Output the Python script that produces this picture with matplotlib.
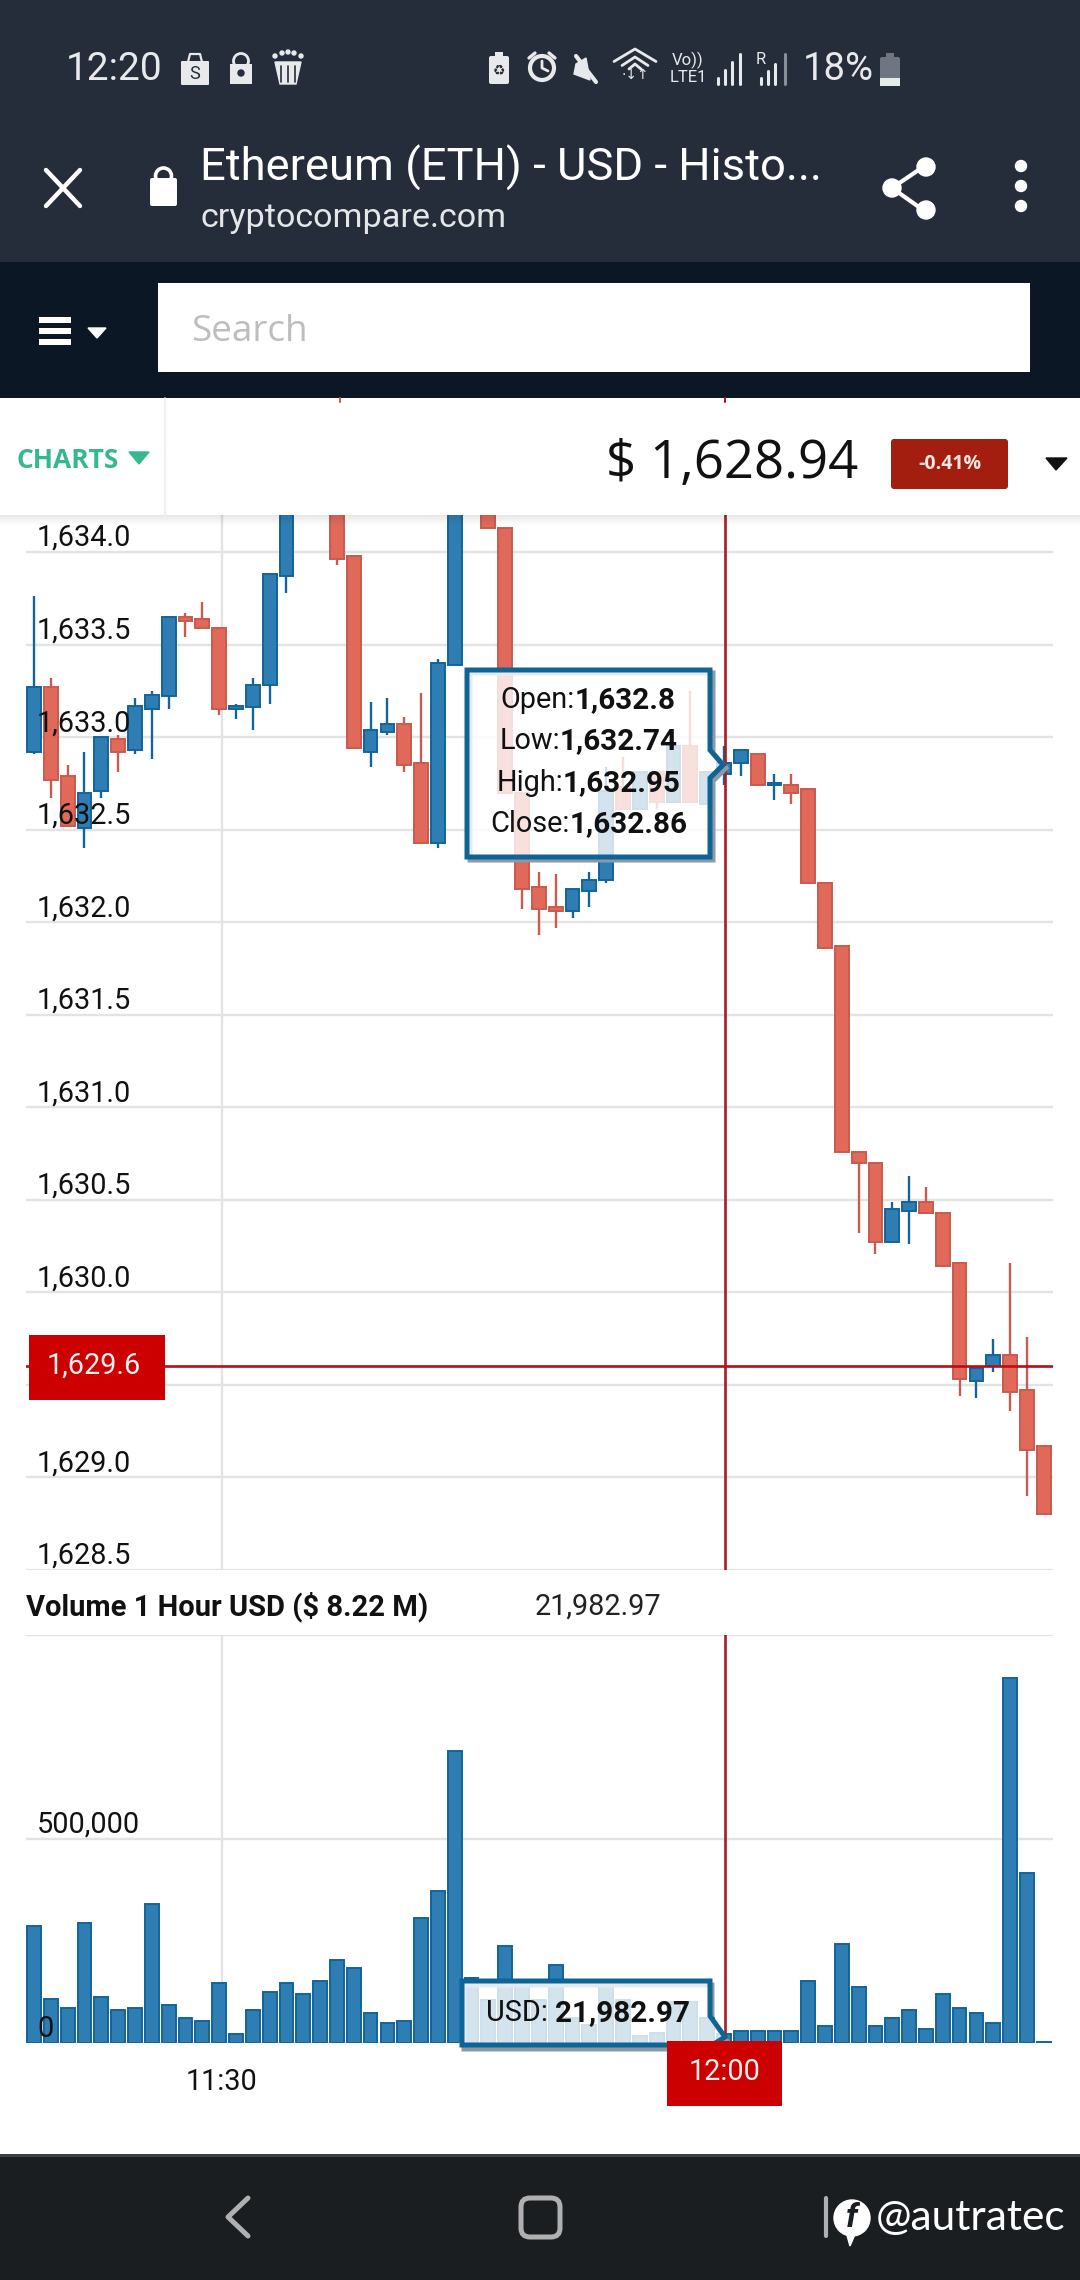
import matplotlib
matplotlib.use('Agg')
import matplotlib.pyplot as plt
from matplotlib.patches import Rectangle, Polygon, Circle, FancyBboxPatch

plt.rcParams['font.family'] = ['Roboto', 'DejaVu Sans']

W, H = 1080, 2280

opens = [1632.92, 1633.27, 1632.79, 1632.51, 1632.71, 1632.99, 1632.93, 1633.15, 1633.22, 1633.65,
         1633.64, 1633.59, 1633.15, 1633.16, 1633.28, 1633.87, 1634.70, 1634.60, 1634.40, 1633.98,
         1632.92, 1633.03, 1633.07, 1632.86, 1632.43, 1633.39, 1634.40, 1634.30, 1634.13, 1632.70,
         1632.19, 1632.08, 1632.06, 1632.17, 1632.23, 1632.73, 1632.61, 1632.81, 1632.65, 1632.95,
         1632.64, 1632.80, 1632.86, 1632.91, 1632.74, 1632.74, 1632.72, 1632.21, 1631.87, 1630.76,
         1630.70, 1630.27, 1630.44, 1630.49, 1630.43, 1630.16, 1629.52, 1629.60, 1629.66, 1629.47, 1629.17]
closes = [1633.27, 1632.77, 1632.52, 1632.70, 1633.00, 1632.92, 1633.17, 1633.23, 1633.65, 1633.63,
          1633.59, 1633.15, 1633.17, 1633.28, 1633.88, 1634.50, 1634.50, 1634.40, 1633.96, 1632.94,
          1633.04, 1633.07, 1632.85, 1632.43, 1633.40, 1634.50, 1634.60, 1634.13, 1632.70, 1632.18,
          1632.07, 1632.06, 1632.18, 1632.23, 1632.71, 1632.61, 1632.81, 1632.65, 1632.95, 1632.65,
          1632.81, 1632.86, 1632.93, 1632.74, 1632.75, 1632.70, 1632.21, 1631.86, 1630.76, 1630.70,
          1630.27, 1630.45, 1630.49, 1630.43, 1630.14, 1629.53, 1629.59, 1629.66, 1629.46, 1629.15, 1628.80]
highs = [1633.76, 1633.32, 1632.85, 1632.92, 1633.00, 1633.01, 1633.21, 1633.25, 1633.65, 1633.67,
         1633.73, 1633.59, 1633.18, 1633.32, 1633.88, 1634.50, 1634.70, 1634.60, 1634.40, 1633.98,
         1633.19, 1633.21, 1633.11, 1633.24, 1633.42, 1634.50, 1634.60, 1634.30, 1634.13, 1632.70,
         1632.27, 1632.26, 1632.18, 1632.27, 1632.84, 1632.89, 1632.81, 1632.81, 1632.95, 1633.25,
         1632.81, 1632.95, 1632.93, 1632.91, 1632.80, 1632.80, 1632.72, 1632.21, 1631.87, 1630.76,
         1630.70, 1630.49, 1630.63, 1630.57, 1630.43, 1630.16, 1629.59, 1629.75, 1630.16, 1629.76, 1629.17]
lows = [1632.91, 1632.67, 1632.52, 1632.40, 1632.67, 1632.81, 1632.91, 1632.88, 1633.15, 1633.54,
        1633.59, 1633.12, 1633.10, 1633.04, 1633.18, 1633.78, 1634.50, 1634.40, 1633.93, 1632.94,
        1632.84, 1633.01, 1632.81, 1632.43, 1632.40, 1633.39, 1634.40, 1634.13, 1632.70, 1632.07,
        1631.93, 1631.97, 1632.02, 1632.08, 1632.21, 1632.61, 1632.61, 1632.61, 1632.65, 1632.65,
        1632.64, 1632.74, 1632.79, 1632.74, 1632.66, 1632.64, 1632.21, 1631.86, 1630.76, 1630.32,
        1630.21, 1630.27, 1630.26, 1630.43, 1630.14, 1629.44, 1629.43, 1629.57, 1629.36, 1628.90, 1628.80]
volumes = [287000, 107000, 87000, 294000, 113000, 80000, 87000, 340000, 94000, 62000,
           55000, 146000, 23000, 80000, 126000, 146000, 120000, 153000, 204000, 184000,
           74000, 48000, 55000, 307000, 372000, 715000, 160000, 106000, 237000, 143000,
           106000, 192000, 62000, 44000, 143000, 106000, 17000, 25000, 101000, 101000,
           62000, 21983, 29000, 29000, 29000, 29000, 153000, 42000, 242000, 138000,
           42000, 62000, 80000, 35000, 120000, 87000, 74000, 48000, 895000, 417000, 3000]
price_ticks = [1634.0, 1633.5, 1633.0, 1632.5, 1632.0, 1631.5, 1631.0, 1630.5, 1630.0, 1629.0, 1628.5]
price_grid = [1634.0, 1633.5, 1633.0, 1632.5, 1632.0, 1631.5, 1631.0, 1630.5, 1630.0, 1629.5, 1629.0, 1628.5]
volume_ticks = [0, 500000]
volume_labels = ['0', '500,000']
time_tick = 11.15
time_label = '11:30'
cross_index = 41.05
cross_price = 1629.6

BLUE = '#2f7eb3'
BLUE_EDGE = '#13649b'
RED = '#e0695a'
RED_EDGE = '#c95a4e'
GRID = '#e3e3e3'
CROSS = '#a51d24'
DARK = '#252c3a'
ICON = '#e8e9eb'
LABEL = 20.8


def add_box(left, top, right, bottom, **kw):
    a = fig.add_axes([left / W, 1 - bottom / H, (right - left) / W, (bottom - top) / H], **kw)
    a.patch.set_visible(False)
    for s in a.spines.values():
        s.set_visible(False)
    return a


fig = plt.figure(figsize=(W / 100, H / 100), dpi=100, facecolor='white')

# candles
ax = add_box(26, 515, 1053, 1570, zorder=2)
xs = list(range(len(opens)))
for x, o, c, h, l in zip(xs, opens, closes, highs, lows):
    up = c >= o
    ax.vlines(x, l, h, color=BLUE_EDGE if up else RED_EDGE, lw=1.7, zorder=1.5)
    ax.bar(x, abs(c - o), bottom=min(o, c), width=0.82, color=BLUE if up else RED,
           edgecolor=BLUE_EDGE if up else RED_EDGE, linewidth=1.4, zorder=2)
for p in price_grid:
    ax.axhline(p, color=GRID, lw=1.7, zorder=0.5)
ax.axvline(time_tick, color=GRID, lw=1.7, zorder=0.6)
ax.axvline(cross_index, color=CROSS, lw=1.9, zorder=3)
ax.axhline(cross_price, color='#b80f17', lw=1.9, zorder=3)
ax.set_xlim(-0.475, 60.55)
ax.set_ylim(1628.5, 1634.2)
ax.set_xticks([])
ax.set_yticks(price_ticks)
ax.set_yticklabels([f'{p:,.1f}' for p in price_ticks])
ax.set_axisbelow(False)
ax.tick_params(axis='y', length=0, pad=-8, labelsize=LABEL, labelcolor='#111111')
for t in ax.get_yticklabels():
    t.set_ha('left')
    t.set_va('bottom')

# volume
vx = add_box(26, 1635, 1053, 2043, zorder=2)
vx.bar(xs, volumes, width=0.82, color=BLUE, edgecolor=BLUE_EDGE, linewidth=1.4, zorder=2)
for v in volume_ticks + [1000000]:
    vx.axhline(v, color=GRID, lw=1.7, zorder=0.5)
vx.axvline(time_tick, color=GRID, lw=1.7, zorder=0.6)
vx.axvline(cross_index, color=CROSS, lw=1.9, zorder=3)
vx.set_xlim(-0.475, 60.55)
vx.set_ylim(0, 1000000)
vx.set_xticks([time_tick])
vx.set_xticklabels([time_label])
vx.set_yticks(volume_ticks)
vx.set_yticklabels(volume_labels)
vx.set_axisbelow(False)
vx.tick_params(axis='y', length=0, pad=-8, labelsize=LABEL, labelcolor='#111111')
vx.tick_params(axis='x', length=0, pad=18, labelsize=LABEL, labelcolor='#111111')
for t in vx.get_yticklabels():
    t.set_ha('left')
    t.set_va('bottom')
for t in vx.get_xticklabels():
    t.set_clip_on(False)

# everything else is page furniture, drawn in screen pixels
top = add_box(0, 0, W, H, zorder=5)
top.set_xlim(0, W)
top.set_ylim(H, 0)
top.axis('off')


def rect(x0, y0, x1, y1, color, **kw):
    top.add_patch(Rectangle((x0, y0), x1 - x0, y1 - y0, facecolor=color, edgecolor='none', **kw))


def line(xx, yy, color='white', lw=3, **kw):
    top.plot(xx, yy, color=color, lw=lw, solid_capstyle='round', **kw)


# tooltips
tip = [(467, 670), (710, 670), (710, 750), (723, 765), (710, 778), (710, 857), (467, 857)]
top.add_patch(Polygon([(a + 3, b + 3) for a, b in tip], closed=True, fill=False, edgecolor='#8a9aa6', lw=3.6))
top.add_patch(Polygon(tip, closed=True, facecolor=(1, 1, 1, 0.8), edgecolor='#0f6496', lw=3.6, joinstyle='miter'))
for name, value, split, y in [('Open:', '1,632.8', 575, 700), ('Low:', '1,632.74', 560, 741),
                              ('High:', '1,632.95', 563, 783), ('Close:', '1,632.86', 570, 824)]:
    top.text(split, y, name, ha='right', va='center', fontsize=LABEL, color='#111111')
    top.text(split, y, value, ha='left', va='center', fontsize=21.3, color='#111111', fontweight='bold')

tip2 = [(462, 1981), (710, 1981), (710, 2016), (725, 2037), (712, 2045), (462, 2045)]
top.add_patch(Polygon([(a + 2, b + 4) for a, b in tip2], closed=True, fill=False, edgecolor='#8a9aa6', lw=3.6))
top.add_patch(Polygon(tip2, closed=True, facecolor=(1, 1, 1, 0.8), edgecolor='#0f6496', lw=3.6, joinstyle='miter'))
top.text(548, 2013, 'USD:', ha='right', va='center', fontsize=LABEL, color='#111111')
top.text(555, 2013, '21,982.97', ha='left', va='center', fontsize=21.3, color='#111111', fontweight='bold')

# crosshair labels
rect(29, 1335, 165, 1400, '#cc0000')
top.text(94, 1366, '1,629.6', ha='center', va='center', fontsize=LABEL, color='#f7eeee')
rect(667, 2041, 782, 2106, '#cc0000')
top.text(725, 2072, '12:00', ha='center', va='center', fontsize=LABEL, color='#f7eeee')

top.text(26, 1607, 'Volume 1 Hour USD ($ 8.22 M)', ha='left', va='center', fontsize=21, fontweight='bold', color='#111111')
top.text(535, 1607, '21,982.97', ha='left', va='center', fontsize=LABEL, color='#222222')

# header bands
rect(0, 0, W, 262, DARK)
rect(0, 262, W, 398, '#0c1725')
rect(0, 398, W, 515, 'white')
for i in range(10):
    rect(0, 515 + i, W, 516 + i, 'black', alpha=0.09 * (1 - i / 10))
rect(158, 283, 1030, 372, 'white')
line([165, 165], [398, 515], '#eeeeee', 1.2)
line([340, 340], [398, 402], RED_EDGE, 1.5)
line([725, 725], [398, 402], CROSS, 1.5)

# status bar
top.text(66, 69, '12:20', ha='left', va='center', fontsize=28, color=ICON)
top.add_patch(FancyBboxPatch((182, 62), 26, 22, boxstyle='round,pad=1', facecolor=ICON, edgecolor='none'))
top.plot([188, 190, 200, 202], [62, 54, 54, 62], color=ICON, lw=1.6)
top.text(195, 74, 'S', ha='center', va='center', fontsize=13, color=DARK)
rect(230, 64, 252, 84, ICON)
top.add_patch(Circle((241, 61), 7.5, facecolor='none', edgecolor=ICON, lw=2))
top.add_patch(Circle((241, 73), 3, color=DARK))
top.add_patch(Polygon([(275, 62), (301, 62), (296, 84), (280, 84)], closed=True, color=ICON))
for bx in [281, 288, 295]:
    line([bx, bx], [66, 82], DARK, 1.2)
for bx, by in [(275, 56), (282, 53), (288, 52), (294, 53), (301, 56)]:
    top.add_patch(Circle((bx, by), 2, color=ICON))
top.add_patch(FancyBboxPatch((491, 58), 16, 24, boxstyle='round,pad=2', facecolor=ICON, edgecolor='none'))
rect(495, 52, 503, 57, ICON)
top.text(499, 71, '♻', ha='center', va='center', fontsize=10, color=DARK, family='DejaVu Sans')
top.add_patch(Circle((542, 68), 12, facecolor='none', edgecolor=ICON, lw=3))
line([542, 542, 548], [61, 68, 71], ICON, 2)
line([529, 535], [58, 53], ICON, 2.4)
line([549, 555], [53, 58], ICON, 2.4)
line([576, 596], [56, 82], ICON, 3)
top.add_patch(Polygon([(576, 64), (586, 58), (590, 80), (574, 74)], closed=True, color=ICON))
for r, y0 in [(21, 70), (13, 70), (6, 70)]:
    line([635 - r, 635, 635 + r], [y0 - r * 0.5 + 2, y0 - r, y0 - r * 0.5 + 2], ICON, 2)
top.text(635, 75, '·↓↑', ha='center', va='center', fontsize=10, color=ICON, family='DejaVu Sans')
top.text(688, 60, 'Vo))', ha='center', va='center', fontsize=12, color=ICON)
top.text(688, 78, 'LTE1', ha='center', va='center', fontsize=12, color=ICON)
for k, sx in enumerate([718, 725, 732, 740]):
    line([sx, sx], [84, 78 - 8 * k], ICON, 2.2)
top.text(761, 60, 'R', ha='center', va='center', fontsize=12, color=ICON)
for k, sx in enumerate([761, 768, 775]):
    line([sx, sx], [84, 78 - 7 * k], ICON, 2.2)
line([785, 785], [54, 84], '#8a8f98', 2.2)
top.text(803, 69, '18%', ha='left', va='center', fontsize=27.5, color=ICON)
top.add_patch(FancyBboxPatch((882, 59), 16, 25, boxstyle='round,pad=2', facecolor='#6f7681', edgecolor='none'))
rect(880, 78, 900, 86, ICON)
rect(886, 53, 894, 58, '#6f7681')

# browser bar
line([46, 80], [170, 206], 'white', 3.2)
line([80, 46], [170, 206], 'white', 3.2)
top.add_patch(FancyBboxPatch((152, 180), 23, 24, boxstyle='round,pad=2', facecolor='white', edgecolor='none'))
top.add_patch(Circle((163.5, 176), 8, facecolor='none', edgecolor='white', lw=2.6))
top.text(200, 168, 'Ethereum (ETH) - USD - Histo...', ha='left', va='center', fontsize=32.7, color='white')
top.text(200, 218, 'cryptocompare.com', ha='left', va='center', fontsize=24.6, color='#e4e6e8')
line([926, 892, 926], [165, 188, 212], 'white', 3)
for cx, cy in [(926, 167), (892, 188), (926, 210)]:
    top.add_patch(Circle((cx, cy), 9, color='white'))
for cy in [166, 186, 206]:
    top.add_patch(Circle((1021, cy), 5.5, color='white'))

# search row
for cy in [320, 331, 342]:
    rect(39, cy - 3, 71, cy + 3, 'white')
top.add_patch(Polygon([(88, 328), (106, 328), (97, 338)], closed=True, color='white'))
top.text(191, 332, 'Search', ha='left', va='center', fontsize=26.6, color='#bdbdbd', family='Open Sans')

# price row
top.text(16, 460, 'CHARTS', ha='left', va='center', fontsize=19, fontweight='bold', color='#35b78f', family='Open Sans')
top.add_patch(Polygon([(129, 452), (149, 452), (139, 464)], closed=True, color='#35b78f'))
top.text(858, 464, '$ 1,628.94', ha='right', va='center', fontsize=38, color='#111111', family='Open Sans')
top.add_patch(FancyBboxPatch((894, 442), 111, 44, boxstyle='round,pad=3', facecolor='#a31e0e', edgecolor='none'))
top.text(950, 464, '-0.41%', ha='center', va='center', fontsize=14, fontweight='bold', color='#f6e6e2', family='Open Sans')
top.add_patch(Polygon([(1046, 458), (1067, 458), (1056, 470)], closed=True, color='#111111'))

# bottom nav
rect(0, 2155, W, 2280, '#1b1e21')
rect(0, 2154, W, 2157, '#3a3f47')
line([248, 228, 248], [2198, 2217, 2236], '#b0b0b0', 3.6)
top.add_patch(FancyBboxPatch((525, 2202), 31, 31, boxstyle='round,pad=4,rounding_size=9', facecolor='none', edgecolor='#b0b0b0', lw=3.6))
line([826, 826], [2198, 2236], '#b0b0b0', 3)
top.add_patch(Circle((852, 2218), 18, color='white'))
top.add_patch(Polygon([(846, 2232), (856, 2232), (850, 2246)], closed=True, color='white'))
top.text(852, 2218, 'f', ha='center', va='center', fontsize=24, fontweight='bold', style='italic', color='#1b1e21')
top.text(876, 2218, '@autratec', ha='left', va='center', fontsize=30.5, color='white', family='Lato')

fig.savefig('out.png', dpi=100)
